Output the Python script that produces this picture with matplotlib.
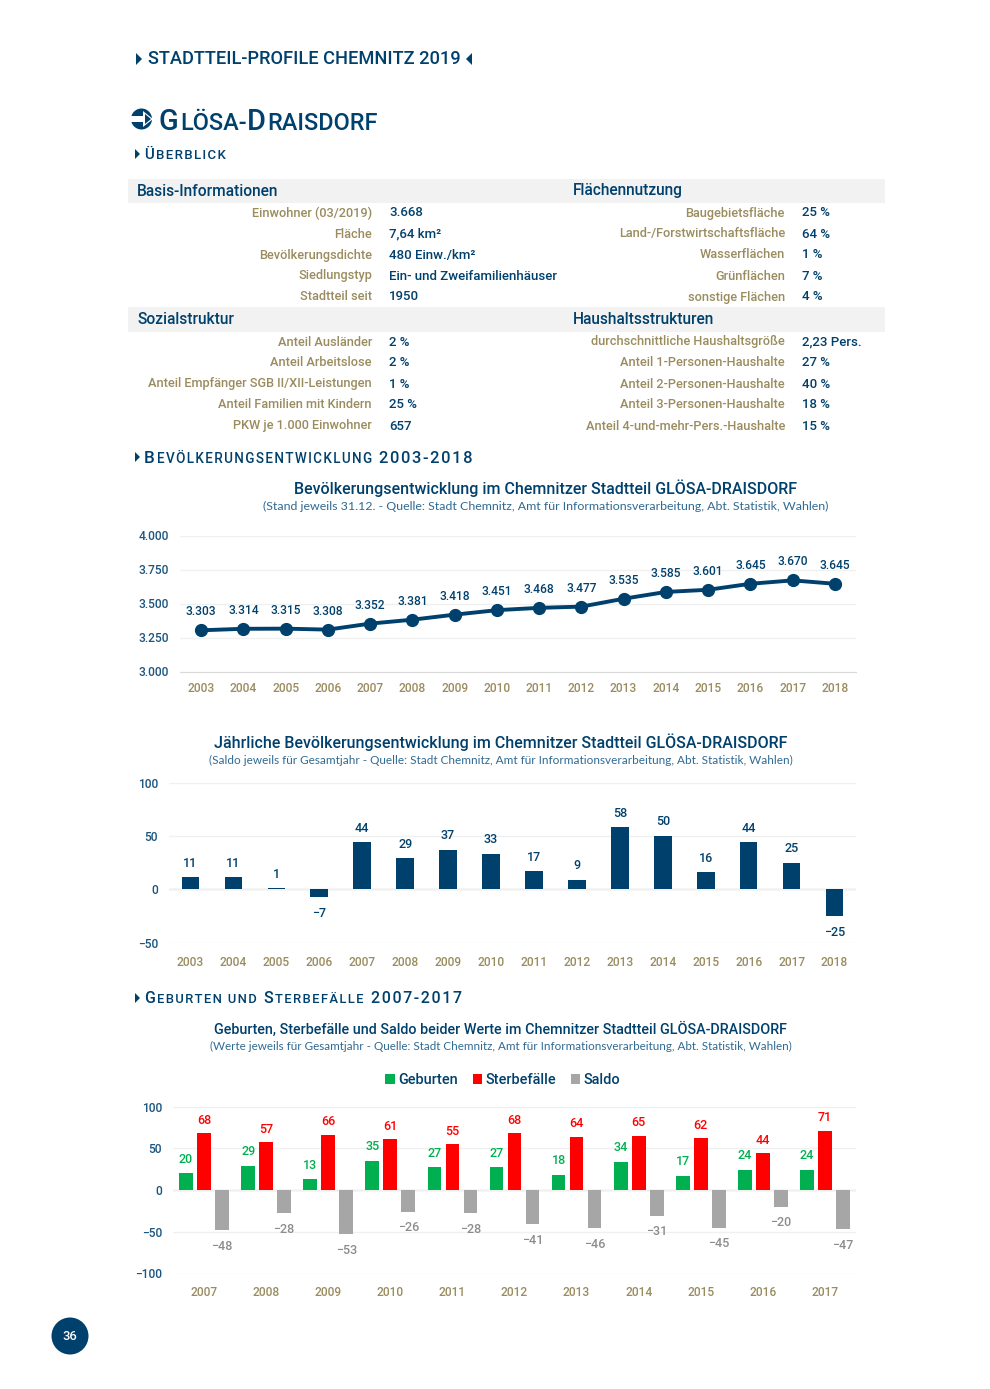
import matplotlib
matplotlib.use('Agg')
import matplotlib.pyplot as plt
from matplotlib.patches import Circle, Polygon, Rectangle

plt.rcParams['font.family'] = ['Roboto', 'DejaVu Sans']

W, H = 990, 1389
NAVY = '#00406c'
TAN = '#9a8c5e'
BAND = '#f2f2f2'
GREEN = '#00b050'
RED = '#ff0000'
GRAY = '#a6a6a6'

# Daten
basis_labels = ['Einwohner (03/2019)', 'Fläche', 'Bevölkerungsdichte', 'Siedlungstyp', 'Stadtteil seit']
basis_values = ['3.668', '7,64 km²', '480 Einw./km²', 'Ein- und Zweifamilienhäuser', '1950']
flaeche_labels = ['Baugebietsfläche', 'Land-/Forstwirtschaftsfläche', 'Wasserflächen', 'Grünflächen', 'sonstige Flächen']
flaeche_values = ['25 %', '64 %', '1 %', '7 %', '4 %']
sozial_labels = ['Anteil Ausländer', 'Anteil Arbeitslose', 'Anteil Empfänger SGB II/XII-Leistungen',
                 'Anteil Familien mit Kindern', 'PKW je 1.000 Einwohner']
sozial_values = ['2 %', '2 %', '1 %', '25 %', '657']
haushalt_labels = ['durchschnittliche Haushaltsgröße', 'Anteil 1-Personen-Haushalte', 'Anteil 2-Personen-Haushalte',
                   'Anteil 3-Personen-Haushalte', 'Anteil 4-und-mehr-Pers.-Haushalte']
haushalt_values = ['2,23 Pers.', '27 %', '40 %', '18 %', '15 %']

years_long = [str(y) for y in range(2003, 2019)]
einwohner = [3303, 3314, 3315, 3308, 3352, 3381, 3418, 3451, 3468, 3477, 3535, 3585, 3601, 3645, 3670, 3645]
saldo_jahr = [11, 11, 1, -7, 44, 29, 37, 33, 17, 9, 58, 50, 16, 44, 25, -25]

years_short = [str(y) for y in range(2007, 2018)]
geburten = [20, 29, 13, 35, 27, 27, 18, 34, 17, 24, 24]
sterbefaelle = [68, 57, 66, 61, 55, 68, 64, 65, 62, 44, 71]
saldo = [-48, -28, -53, -26, -28, -41, -46, -31, -45, -20, -47]


def px(n):
    return n * 0.72


def chart_axes(left, right, top, bottom):
    ax = fig.add_axes([left / W, 1 - bottom / H, (right - left) / W, (bottom - top) / H])
    ax.patch.set_alpha(0)
    for s in ['top', 'right', 'left', 'bottom']:
        ax.spines[s].set_visible(False)
    ax.grid(axis='y', color='#f0f0f0', lw=1)
    ax.set_axisbelow(True)
    ax.tick_params(axis='both', length=0)
    return ax


def style_ticks(ax, xpad, ypad, size=12):
    for t in ax.get_xticklabels():
        t.set_color(TAN)
        t.set_fontsize(px(size))
        t.set_fontweight('medium')
    for t in ax.get_yticklabels():
        t.set_color('#1c5580')
        t.set_fontsize(px(size))
        t.set_fontweight('medium')
    ax.tick_params(axis='x', pad=px(xpad))
    ax.tick_params(axis='y', pad=px(ypad))


def minus(v):
    return str(v).replace('-', '\u2212')


def bar_labels(ax, xs, vals, color, up, down, size=12.5):
    for x, v in zip(xs, vals):
        off = up if v >= 0 else -down
        ax.annotate(minus(v), (x, v), xytext=(0, px(off)), textcoords='offset points',
                    ha='center', va='center', color=color, fontsize=px(size), fontweight='medium')


def triangle(x, y, size=7, left=False):
    d = -size if left else size
    page.add_patch(Polygon([(x, y - size), (x, y + size), (x + d, y)], closed=True, color=NAVY, lw=0))


def spaced(s):
    return '\u200a'.join(s)


def caps_heading(x, y, runs, color=NAVY, tracked=True):
    # Kapitaelchen: Abschnitte nacheinander setzen
    r = fig.canvas.get_renderer()
    for s, size, gap in runs:
        t = page.text(x, y, spaced(s) if tracked else s, fontsize=px(size), color=color, va='baseline',
                      ha='left', fontweight='medium')
        x += t.get_window_extent(r).width + gap


def table_block(labels, values, xlabel, xvalue, ys):
    for lab, val, y in zip(labels, values, ys):
        page.text(xlabel, y, lab, ha='right', va='center', color=TAN, fontsize=px(12.7), fontweight='medium')
        page.text(xvalue, y, val, ha='left', va='center', color=NAVY, fontsize=px(13.3), fontweight='medium')


fig = plt.figure(figsize=(W / 100, H / 100), dpi=100)
page = fig.add_axes([0, 0, 1, 1])
page.set_xlim(0, W)
page.set_ylim(H, 0)
page.axis('off')

# Kopf
triangle(136, 59, 6)
page.text(148, 59, 'STADTTEIL-PROFILE CHEMNITZ 2019', fontsize=px(18.3), color=NAVY, va='center', fontweight='medium')
triangle(472, 59, 6, left=True)

page.add_patch(Circle((141.5, 119), 10.5, color=NAVY, lw=0))
page.add_patch(Rectangle((131, 116), 14, 6, color='white', lw=0))
page.add_patch(Polygon([(143, 111), (143, 127), (153, 119)], closed=True, color='white', lw=0))
page.add_patch(Polygon([(145, 114), (145, 124), (151, 119)], closed=True, color=NAVY, lw=0))
caps_heading(159, 130, [('G', 29, 1), ('LÖSA-', 23.5, 1), ('D', 29, 1), ('RAISDORF', 23.5, 0)], tracked=False)

triangle(135, 154, 5)
caps_heading(144, 159, [('Ü', 15, 2), ('BERBLICK', 13.3, 0)])

# Tabelle
page.add_patch(Rectangle((128, 179), 757, 24, color=BAND, lw=0))
page.add_patch(Rectangle((128, 307), 757, 25, color=BAND, lw=0))
for x, y, s in [(137, 191, 'Basis-Informationen'), (573, 191, 'Flächennutzung'),
                (137, 319, 'Sozialstruktur'), (573, 319, 'Haushaltsstrukturen')]:
    page.text(x, y, s, fontsize=px(15.5), color=NAVY, va='center', fontweight='medium')
rows_top = [213, 234, 255, 276, 297]
rows_bot = [342, 363, 384, 405, 426]
table_block(basis_labels, basis_values, 372, 389, rows_top)
table_block(flaeche_labels, flaeche_values, 785, 802, rows_top)
table_block(sozial_labels, sozial_values, 372, 389, rows_bot)
table_block(haushalt_labels, haushalt_values, 785, 802, rows_bot)

# Abschnitt Bevoelkerung
triangle(135, 457, 5)
caps_heading(144, 463, [('B', 17, 2), ('EVÖLKERUNGSENTWICKLUNG', 13.5, 7), ('2003-2018', 16.5, 0)])
page.text(546, 488, 'Bevölkerungsentwicklung im Chemnitzer Stadtteil GLÖSA-DRAISDORF', ha='center', va='center',
          color=NAVY, fontsize=px(16), fontweight='medium')
page.text(546, 506, '(Stand jeweils 31.12. - Quelle: Stadt Chemnitz, Amt für Informationsverarbeitung, Abt. Statistik, Wahlen)',
          ha='center', va='center', color='#2f6a93', fontsize=px(12.4), family=['Lato', 'DejaVu Sans'])

ax1 = chart_axes(180, 856, 535.5, 671.5)
x1 = list(range(len(years_long)))
ax1.plot(x1, einwohner, color=NAVY, lw=2.8, marker='o', ms=8.5)
ax1.set_xlim(-0.5, len(x1) - 0.5)
ax1.set_ylim(3000, 4000)
ax1.set_yticks([3000, 3250, 3500, 3750, 4000])
ax1.set_yticklabels(['3.000', '3.250', '3.500', '3.750', '4.000'])
ax1.set_xticks(x1)
ax1.set_xticklabels(years_long)
ax1.spines['bottom'].set_visible(True)
ax1.spines['bottom'].set_color('#d9d9d9')
style_ticks(ax1, 10, 11)
for x, v in zip(x1, einwohner):
    ax1.annotate(f'{v:,}'.replace(',', '.'), (x, v), xytext=(0, px(18.5)), textcoords='offset points',
                 ha='center', va='center', color=NAVY, fontsize=px(12), fontweight='medium')

# Jaehrliche Entwicklung
page.text(501, 742, 'Jährliche Bevölkerungsentwicklung im Chemnitzer Stadtteil GLÖSA-DRAISDORF', ha='center', va='center',
          color=NAVY, fontsize=px(16), fontweight='medium')
page.text(501, 760, '(Saldo jeweils für Gesamtjahr - Quelle: Stadt Chemnitz, Amt für Informationsverarbeitung, Abt. Statistik, Wahlen)',
          ha='center', va='center', color='#2f6a93', fontsize=px(11.7), family=['Lato', 'DejaVu Sans'])

ax2 = chart_axes(169, 856, 782.5, 942.5)
x2 = list(range(len(years_long)))
ax2.bar(x2, saldo_jahr, width=0.41, color=NAVY)
ax2.axhline(0, color='#d9d9d9', lw=1, zorder=0.5)
ax2.set_xlim(-0.5, len(x2) - 0.5)
ax2.set_ylim(-50, 100)
ax2.set_yticks([-50, 0, 50, 100])
ax2.set_yticklabels(['\u221250', '0', '50', '100'])
ax2.set_xticks(x2)
ax2.set_xticklabels(years_long)
style_ticks(ax2, 13, 11)
bar_labels(ax2, x2, saldo_jahr, NAVY, 14, 17)

# Abschnitt Geburten
triangle(135, 998, 5)
caps_heading(144, 1003, [('G', 16, 2), ('EBURTEN UND', 13, 7), ('S', 16, 2), ('TERBEFÄLLE', 13, 7), ('2007-2017', 16, 0)])
page.text(501, 1029, 'Geburten, Sterbefälle und Saldo beider Werte im Chemnitzer Stadtteil GLÖSA-DRAISDORF', ha='center', va='center',
          color=NAVY, fontsize=px(14.4), fontweight='medium')
page.text(501, 1046, '(Werte jeweils für Gesamtjahr - Quelle: Stadt Chemnitz, Amt für Informationsverarbeitung, Abt. Statistik, Wahlen)',
          ha='center', va='center', color='#2f6a93', fontsize=px(11.65), family=['Lato', 'DejaVu Sans'])

ax3 = chart_axes(173, 856, 1106.5, 1273.5)
x3 = list(range(len(years_short)))
off = 0.29
bw = 0.22
b1 = ax3.bar([x - off for x in x3], geburten, width=bw, color=GREEN, label='Geburten')
b2 = ax3.bar(x3, sterbefaelle, width=bw, color=RED, label='Sterbefälle')
b3 = ax3.bar([x + off for x in x3], saldo, width=bw, color=GRAY, label='Saldo')
ax3.axhline(0, color='#d9d9d9', lw=1, zorder=0.5)
ax3.set_xlim(-0.5, len(x3) - 0.5)
ax3.set_ylim(-100, 100)
ax3.set_yticks([-100, -50, 0, 50, 100])
ax3.set_yticklabels(['\u2212100', '\u221250', '0', '50', '100'])
ax3.set_xticks(x3)
ax3.set_xticklabels(years_short)
style_ticks(ax3, 13, 11)
bar_labels(ax3, [x - off for x in x3], geburten, GREEN, 14, 16)
bar_labels(ax3, x3, sterbefaelle, RED, 13, 16)
bar_labels(ax3, [x + off for x in x3], saldo, '#8c8c8c', 14, 16)
fig.legend(handles=[b1, b2, b3], loc='center', bbox_to_anchor=(503 / W, 1 - 1080 / H), ncols=3, frameon=False,
           handlelength=0.65, handleheight=0.7, handletextpad=0.25, columnspacing=1.0,
           prop={'size': px(14.5), 'weight': 'medium'}, labelcolor=NAVY)

# Seitenzahl
page.add_patch(Circle((70, 1336), 18.5, color=NAVY, lw=0))
page.text(70, 1337, '36', ha='center', va='center', color='white', fontsize=px(13), fontweight='medium')

fig.savefig('out.png', dpi=100)
